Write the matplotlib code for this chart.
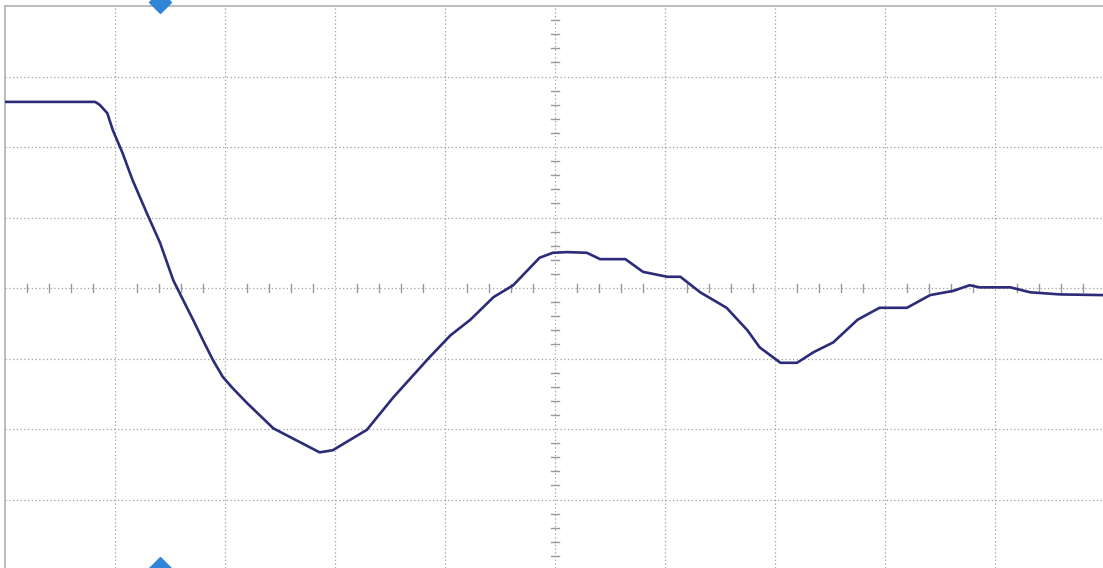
import matplotlib
matplotlib.use("Agg")
import matplotlib.pyplot as plt
import numpy as np

# Trace in screen divisions (x: -5..5, y: -4..4)
t_div = [-5.0, -4.18, -4.14, -4.07, -4.02, -3.93, -3.89, -3.84, -3.71, -3.65, -3.59, -3.47, -3.40,
         -3.29, -3.20, -3.11, -3.02, -2.93, -2.80, -2.56, -2.35, -2.14, -2.02, -1.71, -1.47, -1.14,
         -0.95, -0.77, -0.56, -0.38, -0.14, -0.02, 0.11, 0.29, 0.41, 0.64, 0.80, 1.02,
         1.14, 1.32, 1.56, 1.75, 1.86, 2.05, 2.20, 2.35, 2.53, 2.75, 2.95, 3.20, 3.41,
         3.62, 3.77, 3.86, 4.14, 4.32, 4.59, 4.98]
v_div = [2.64, 2.64, 2.60, 2.48, 2.24, 1.91, 1.74, 1.53, 1.06, 0.85, 0.64, 0.11, -0.11,
         -0.45, -0.74, -1.02, -1.26, -1.42, -1.63, -1.99, -2.16, -2.33, -2.30, -2.01, -1.55, -0.98,
         -0.67, -0.45, -0.13, 0.04, 0.43, 0.50, 0.51, 0.50, 0.41, 0.41, 0.23, 0.16,
         0.16, -0.06, -0.28, -0.60, -0.84, -1.06, -1.06, -0.91, -0.77, -0.45, -0.28, -0.28, -0.10,
         -0.04, 0.04, 0.01, 0.01, -0.06, -0.09, -0.10]
trigger_pos = -3.59

W, H = 1103, 568
fig = plt.figure(figsize=(W / 100, H / 100), dpi=100)
fig.patch.set_facecolor("white")
ax = fig.add_axes([5 / W, 0, 1098 / W, 562 / H])
ax.set_xlim(-5, 4.982)
ax.set_ylim(-3.97, 4.0)
ax.set_facecolor("white")
for s in ["right", "bottom"]:
    ax.spines[s].set_visible(False)
for s in ["left", "top"]:
    ax.spines[s].set_color("#b0b0b0")
    ax.spines[s].set_linewidth(1.2)
ax.set_xticks([])
ax.set_yticks([])

grid_c = "#a0a0a0"
for gx in range(-4, 5):
    ax.axvline(gx, color=grid_c, lw=0.9, ls=(0, (1, 2)), zorder=1)
for gy in range(-3, 4):
    ax.axhline(gy, color=grid_c, lw=0.9, ls=(0, (1, 2)), zorder=1)

# minor ticks on center axes
for mx in np.arange(-5, 5.01, 0.2):
    if abs(mx - round(mx)) < 1e-6:
        continue
    ax.plot([mx, mx], [-0.06, 0.06], color="#999999", lw=1.0, zorder=1)
for my in np.arange(-4, 4.01, 0.2):
    if abs(my - round(my)) < 1e-6:
        continue
    ax.plot([-0.04, 0.04], [my, my], color="#999999", lw=1.0, zorder=1)

ax.plot(t_div, v_div, color="#2b2b7a", lw=1.9, zorder=3, solid_joinstyle="round")

# trigger markers
ax.plot([trigger_pos], [4.0 + 4 / 70.5], marker="D", ms=11, color="#2f86d8",
        mec="#2f86d8", clip_on=False, zorder=5)
ax.plot([trigger_pos], [-3.97], marker="D", ms=11, color="#2f86d8",
        mec="#2f86d8", clip_on=False, zorder=5)

fig.savefig("out.png", dpi=100, facecolor="white")
